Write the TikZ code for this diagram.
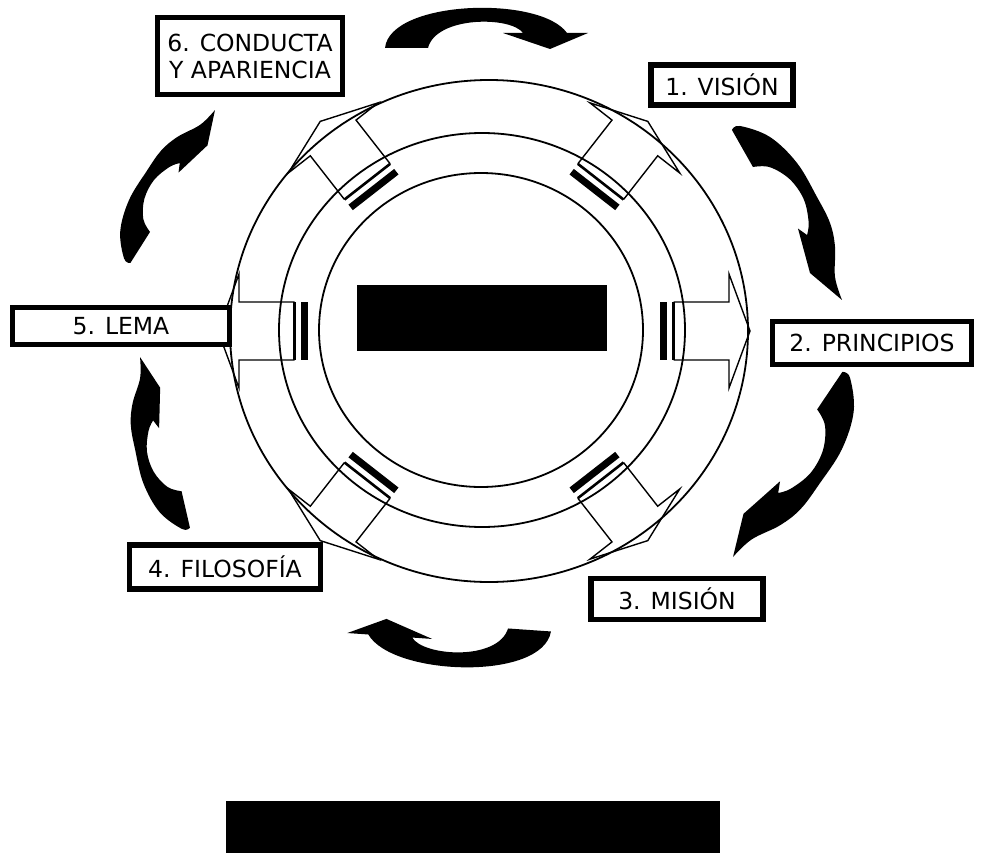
\documentclass[tikz,border=0pt]{standalone}
\usepackage{fontspec}
\setmainfont{DejaVu Sans}
\usetikzlibrary{calc}

% Arch-shaped arrow (top/bottom): local x along the chord, local y towards the bulge
\newcommand{\archshape}{%
  \fill[black] (-21,0) .. controls (-16,48) and (134,53) .. (161,15)
    -- (182,15) -- (144,-1) -- (97,15) -- (117,15)
    .. controls (105,32) and (30,32) .. (22,0) -- cycle;}

% Comma-shaped arrow (sides): foot at the origin, tip at (181.9,0), bulge to +y
\newcommand{\commashape}{%
  \fill[black] (-20.5,1.5)
    -- plot[smooth, tension=0.6] coordinates {(-20.5,1.5) (-19.5,10.4) (6.2,29.4)
        (42.8,37.7) (82.2,35.7) (111,32.3) (133.8,23.3) (158.9,6.8) (181.9,0)}
    -- (141.8,-11.9) -- (98,2.5) -- (108.4,6.5)
    -- plot[smooth, tension=0.6] coordinates {(108.4,6.5) (98.6,14.9) (76.7,23.4)
        (52.3,22.7) (31.2,12.6) (21.9,-1.3)}
    -- cycle;}

% Side arrow from foot (#1,#2) to tip (#3,#4)
\newcommand{\sidearrow}[4]{%
  \begin{scope}[shift={(#1,#2)}, rotate={atan2(#2-#4,#3-#1)},
                xscale={veclen(#3-#1,#4-#2)/181.9}, yscale={-veclen(#3-#1,#4-#2)/181.9}]
    \commashape
  \end{scope}}

% Striped outline arrow pointing outwards from the ring centre at angle #1
\newcommand{\stripedarrow}[1]{%
  \begin{scope}[shift={(484,331)}, rotate=#1]
    \fill[black] (176,-29) rectangle (183,29);
    \draw[line width=2.6pt] (189.5,-29) -- (189.5,29);
    \draw[arrowline] (189.5,29) -- (245,29) -- (245,57) -- (266,0)
      -- (245,-57) -- (245,-29) -- (189.5,-29);
  \end{scope}}

\begin{document}
\begin{tikzpicture}[x=1pt,y=-1pt,
  ring/.style={line width=1.8pt},
  arrowline/.style={line width=1.4pt, line join=miter},
  labelbox/.style={draw, line width=5.5pt, fill=white, inner sep=0pt,
    align=center, font=\fontsize{23.5}{27}\selectfont},
  blackbox/.style={fill=black, inner sep=0pt}]
\useasboundingbox (0,0) rectangle (981,853);

% rings
\draw[ring] (489,331) ellipse [x radius=259, y radius=251];
\draw[ring] (482,330) ellipse [x radius=203, y radius=197];
\draw[ring] (481,330) ellipse [x radius=162, y radius=157];

% striped arrows
\foreach \a in {0,52,128,180,232,308} {\stripedarrow{\a}}

% curved arrows running clockwise between the labels
\begin{scope}[shift={(406,48)}, yscale=-1] \archshape \end{scope}
\begin{scope}[shift={(530,630)}, rotate=176, yscale=-1.05] \archshape \end{scope}
\sidearrow{742}{148}{842}{300}
\sidearrow{830}{390}{733}{557}
\sidearrow{186}{510}{140}{357}
\sidearrow{140}{248}{215}{110}

% centre and bottom panels
\node[blackbox, minimum width=250pt, minimum height=66pt] (core) at (482,318) {};
\node[blackbox, minimum width=494pt, minimum height=52pt] (base) at (473,827) {};

% labels
\node[labelbox, minimum width=142pt, minimum height=40pt] (vision) at (722,85) {1. VISIÓN};
\node[labelbox, minimum width=199pt, minimum height=43pt] (principles) at (872,343) {2. PRINCIPIOS};
\node[labelbox, minimum width=172pt, minimum height=41pt] (mission) at (677,599) {3. MISIÓN};
\node[labelbox, minimum width=191pt, minimum height=44pt] (philosophy) at (225,567) {4. FILOSOFÍA};
\node[labelbox, minimum width=217pt, minimum height=37pt] (motto) at (121,326) {5. LEMA};
\node[labelbox, minimum width=185pt, minimum height=77pt] (conduct) at (250,56) {6. CONDUCTA\\Y APARIENCIA};
\end{tikzpicture}
\end{document}
